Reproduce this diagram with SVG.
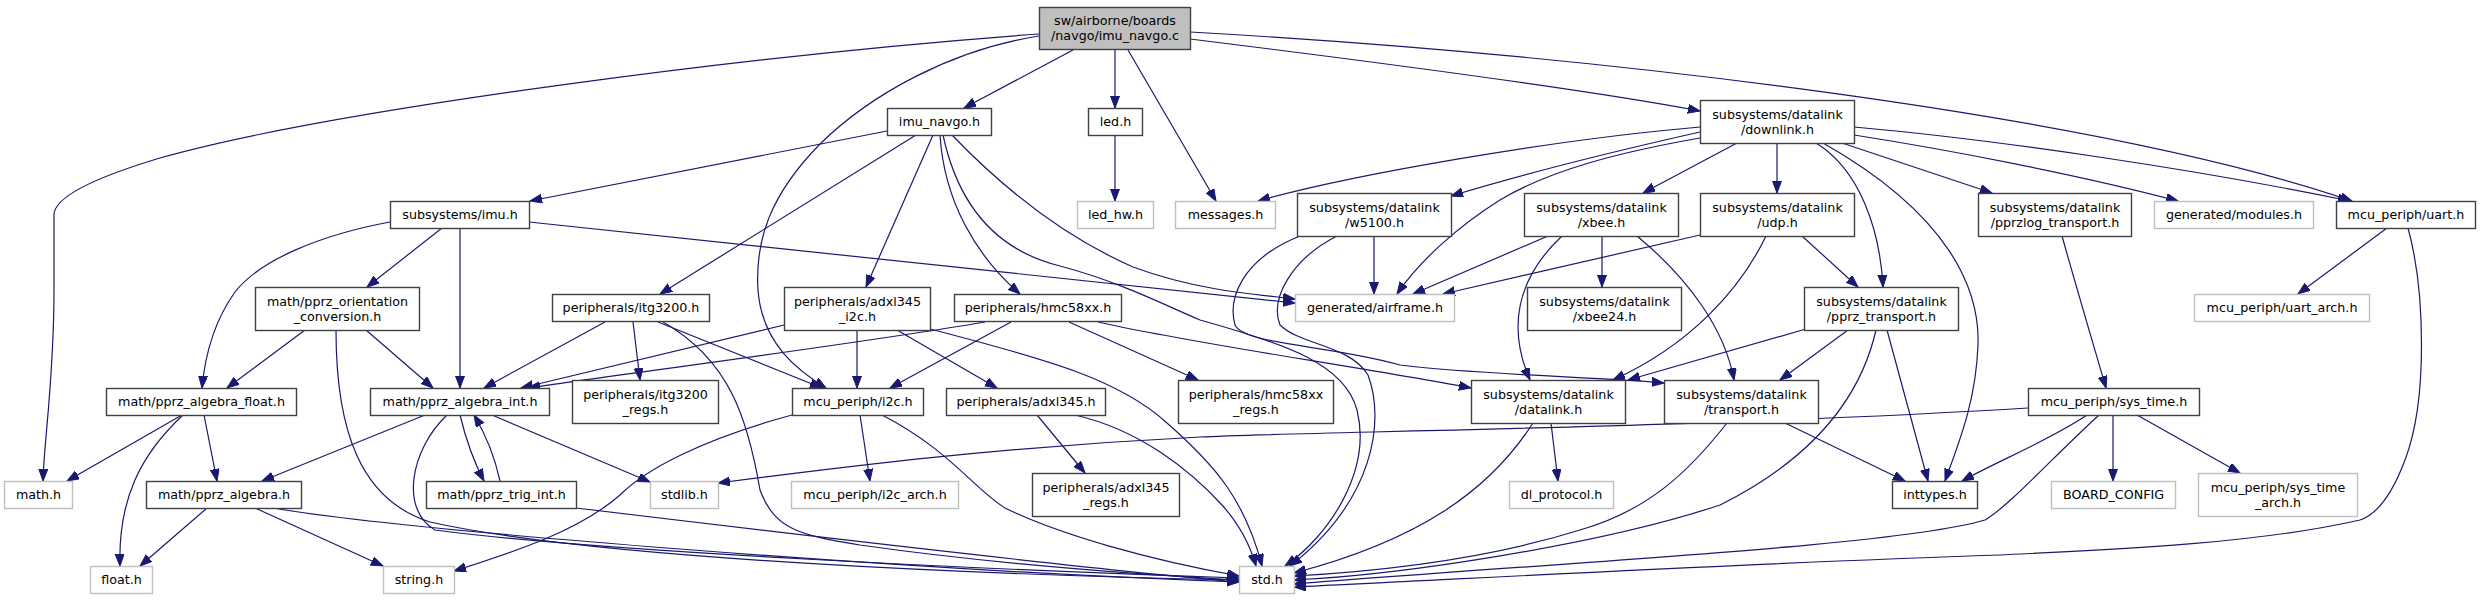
<svg xmlns="http://www.w3.org/2000/svg" width="2480" height="600" viewBox="0 0 2480 600">
<style>
.e path{fill:none;stroke:#191970;stroke-width:1.2;marker-end:url(#a)}
.n rect{fill:#fff;stroke:#404040;stroke-width:1.4}
.g rect{fill:#fff;stroke:#bfbfbf;stroke-width:1.4}
.r rect{fill:#bfbfbf;stroke:#404040;stroke-width:1.4}
text{font-family:"DejaVu Sans",sans-serif;font-size:12.7px;text-anchor:middle;fill:#000}
</style>
<defs>
<marker id="a" markerUnits="userSpaceOnUse" markerWidth="14" markerHeight="12" refX="12" refY="4.5" orient="auto">
<path d="M0,0 L12,4.5 L0,9 z" fill="#191970" stroke="#191970" stroke-width="1"/>
</marker>
</defs>
<rect width="2480" height="600" fill="#fff"/>
<g id="edges" class="e">
<path d="M1039,34 C750,55 330,110 160,158 C80,182 54,200 54,215 L54,290 C54,380 44,440 43,481"/>
<path d="M1073,50 L964,108"/>
<path d="M1115,50 L1115,108"/>
<path d="M1128,50 L1216,201"/>
<path d="M1039,36 C950,50 870,95 820,144 C770,195 755,240 758,290 C762,345 800,372 826,388"/>
<path d="M1190,39 C1400,65 1600,92 1700,111"/>
<path d="M1190,32 C1600,55 2100,115 2352,201"/>
<path d="M887,131 L530,201"/>
<path d="M916,135 L660,294"/>
<path d="M933,135 L866,287"/>
<path d="M940,135 C944,200 975,255 1020,294"/>
<path d="M943,135 C958,205 995,250 1060,266 C1120,282 1160,303 1200,320 C1290,345 1345,365 1357,410 C1372,470 1330,535 1285,566"/>
<path d="M952,135 C1000,185 1060,235 1133,267 C1190,288 1240,293 1295,299"/>
<path d="M442,228 L367,287"/>
<path d="M460,228 L460,388"/>
<path d="M390,222 C320,235 260,260 235,292 C215,320 205,355 202,388"/>
<path d="M529,222 L1295,303"/>
<path d="M305,330 L227,388"/>
<path d="M366,330 L433,388"/>
<path d="M336,330 C336,430 360,500 430,522 C600,560 1000,575 1239,580"/>
<path d="M182,415 L67,481"/>
<path d="M183,415 C140,455 118,500 120,566"/>
<path d="M204,415 L217,481"/>
<path d="M207,508 L140,566"/>
<path d="M255,508 L383,566"/>
<path d="M273,508 C400,530 900,570 1239,582"/>
<path d="M425,415 L262,481"/>
<path d="M447,415 C410,450 400,510 435,530 C600,552 1000,570 1239,578"/>
<path d="M460,415 C466,440 474,462 484,481"/>
<path d="M500,481 C495,458 486,435 474,415"/>
<path d="M492,415 L650,482"/>
<path d="M576,508 C800,535 1100,570 1239,582"/>
<path d="M605,322 L484,388"/>
<path d="M633,322 L640,380"/>
<path d="M658,322 L822,388"/>
<path d="M663,322 C730,360 748,420 760,490 C775,530 800,535 860,545 C1000,565 1150,575 1239,580"/>
<path d="M784,325 L521,388"/>
<path d="M857,330 L857,388"/>
<path d="M897,330 L997,388"/>
<path d="M930,329 C1050,360 1120,380 1167,423 C1215,465 1245,500 1262,566"/>
<path d="M985,322 C850,345 650,370 528,388"/>
<path d="M1011,322 L890,388"/>
<path d="M1069,322 L1198,380"/>
<path d="M1098,322 C1200,345 1350,365 1471,388"/>
<path d="M860,415 L870,481"/>
<path d="M882,415 C950,450 975,490 1005,508 C1060,535 1150,560 1239,576"/>
<path d="M792,415 C700,440 645,470 620,495 C580,530 520,550 454,571"/>
<path d="M1037,415 L1085,473"/>
<path d="M1075,415 C1140,430 1190,470 1222,505 C1240,525 1250,545 1256,566"/>
<path d="M1374,236 L1374,294"/>
<path d="M1300,236 C1240,260 1228,300 1235,325 C1245,345 1330,345 1400,365 C1480,375 1600,377 1664,383"/>
<path d="M1337,236 C1290,260 1270,300 1280,325 C1300,345 1350,345 1368,375 C1385,420 1375,500 1290,566"/>
<path d="M1700,127 C1550,140 1350,175 1258,201"/>
<path d="M1700,132 C1620,150 1520,175 1451,196"/>
<path d="M1700,138 C1620,152 1550,170 1500,200 C1460,225 1420,260 1397,294"/>
<path d="M1737,143 L1643,193"/>
<path d="M1777,143 L1777,193"/>
<path d="M1816,143 C1860,170 1880,230 1883,287"/>
<path d="M1823,143 C1950,215 1980,290 1978,345 C1976,400 1960,440 1945,481"/>
<path d="M1842,143 L1992,193"/>
<path d="M1854,135 C1950,150 2080,175 2178,201"/>
<path d="M1854,127 C2000,140 2200,170 2350,201"/>
<path d="M1548,236 L1413,294"/>
<path d="M1562,236 C1515,280 1508,330 1530,380"/>
<path d="M1602,236 L1602,287"/>
<path d="M1637,236 C1690,280 1725,330 1734,380"/>
<path d="M1700,235 L1443,294"/>
<path d="M1766,236 C1740,290 1690,345 1613,380"/>
<path d="M1802,236 L1858,287"/>
<path d="M1806,329 L1628,380"/>
<path d="M1848,330 L1780,380"/>
<path d="M1876,330 C1860,400 1810,460 1720,505 C1600,545 1400,575 1294,580"/>
<path d="M1887,330 L1928,481"/>
<path d="M1727,423 C1690,470 1650,510 1580,530 C1500,555 1400,570 1294,576"/>
<path d="M1785,423 L1905,481"/>
<path d="M1533,423 C1490,490 1420,540 1294,573"/>
<path d="M1551,423 L1558,481"/>
<path d="M2028,408 C1700,428 1300,432 1200,437 C1000,447 850,466 718,483"/>
<path d="M2087,415 C2050,440 2000,460 1962,481"/>
<path d="M2099,415 C2050,460 2010,505 1985,520 C1900,545 1600,560 1294,584"/>
<path d="M2113,415 L2113,481"/>
<path d="M2137,415 L2240,473"/>
<path d="M2387,228 L2298,294"/>
<path d="M2408,228 C2425,290 2428,400 2405,460 C2390,500 2375,515 2360,520 C2250,545 2100,550 2000,555 C1700,565 1450,580 1294,587"/>
<path d="M2062,236 C2080,300 2095,350 2106,388"/>
<path d="M1115,135 L1115,201"/>
</g>
<g id="root" class="r"><rect x="1039.5" y="7.5" width="151" height="42"/><text x="1115" y="25">sw/airborne/boards</text><text x="1115" y="40">/navgo/imu_navgo.c</text></g>
<g id="imu_navgo_h" class="n"><rect x="887.5" y="108.5" width="104" height="27"/><text x="939.5" y="126">imu_navgo.h</text></g>
<g id="led_h" class="n"><rect x="1088.5" y="108.5" width="54" height="27"/><text x="1115.5" y="126">led.h</text></g>
<g id="led_hw_h" class="g"><rect x="1077.5" y="201.5" width="76" height="27"/><text x="1115.5" y="219">led_hw.h</text></g>
<g id="messages_h" class="g"><rect x="1175.5" y="201.5" width="100" height="27"/><text x="1225.5" y="219">messages.h</text></g>
<g id="downlink_h" class="n"><rect x="1700.5" y="100.5" width="154" height="43"/><text x="1777.5" y="118.5">subsystems/datalink</text><text x="1777.5" y="133.5">/downlink.h</text></g>
<g id="uart_h" class="n"><rect x="2336.5" y="201.5" width="139" height="27"/><text x="2406" y="219">mcu_periph/uart.h</text></g>
<g id="imu_h" class="n"><rect x="390.5" y="201.5" width="139" height="27"/><text x="460" y="219">subsystems/imu.h</text></g>
<g id="itg3200_h" class="n"><rect x="552.5" y="294.5" width="157" height="27"/><text x="631" y="312">peripherals/itg3200.h</text></g>
<g id="adxl345_i2c_h" class="n"><rect x="784.5" y="287.5" width="146" height="43"/><text x="857.5" y="305.5">peripherals/adxl345</text><text x="857.5" y="320.5">_i2c.h</text></g>
<g id="hmc58xx_h" class="n"><rect x="954.5" y="294.5" width="167" height="27"/><text x="1038" y="312">peripherals/hmc58xx.h</text></g>
<g id="airframe_h" class="g"><rect x="1295.5" y="294.5" width="159" height="27"/><text x="1375" y="312">generated/airframe.h</text></g>
<g id="w5100_h" class="n"><rect x="1297.5" y="193.5" width="154" height="43"/><text x="1374.5" y="211.5">subsystems/datalink</text><text x="1374.5" y="226.5">/w5100.h</text></g>
<g id="xbee_h" class="n"><rect x="1524.5" y="193.5" width="154" height="43"/><text x="1601.5" y="211.5">subsystems/datalink</text><text x="1601.5" y="226.5">/xbee.h</text></g>
<g id="udp_h" class="n"><rect x="1700.5" y="193.5" width="154" height="43"/><text x="1777.5" y="211.5">subsystems/datalink</text><text x="1777.5" y="226.5">/udp.h</text></g>
<g id="pprzlog_transport_h" class="n"><rect x="1978.5" y="193.5" width="153" height="43"/><text x="2055" y="211.5">subsystems/datalink</text><text x="2055" y="226.5">/pprzlog_transport.h</text></g>
<g id="modules_h" class="g"><rect x="2154.5" y="201.5" width="159" height="27"/><text x="2234" y="219">generated/modules.h</text></g>
<g id="uart_arch_h" class="g"><rect x="2194.5" y="294.5" width="175" height="27"/><text x="2282" y="312">mcu_periph/uart_arch.h</text></g>
<g id="sys_time_h" class="n"><rect x="2028.5" y="388.5" width="171" height="27"/><text x="2114" y="406">mcu_periph/sys_time.h</text></g>
<g id="board_config" class="g"><rect x="2051.5" y="481.5" width="124" height="27"/><text x="2113.5" y="499">BOARD_CONFIG</text></g>
<g id="sys_time_arch_h" class="g"><rect x="2198.5" y="473.5" width="159" height="43"/><text x="2278" y="491.5">mcu_periph/sys_time</text><text x="2278" y="506.5">_arch.h</text></g>
<g id="inttypes_h" class="n"><rect x="1892.5" y="481.5" width="85" height="27"/><text x="1935" y="499">inttypes.h</text></g>
<g id="pprz_transport_h" class="n"><rect x="1804.5" y="287.5" width="154" height="43"/><text x="1881.5" y="305.5">subsystems/datalink</text><text x="1881.5" y="320.5">/pprz_transport.h</text></g>
<g id="transport_h" class="n"><rect x="1664.5" y="380.5" width="154" height="43"/><text x="1741.5" y="398.5">subsystems/datalink</text><text x="1741.5" y="413.5">/transport.h</text></g>
<g id="datalink_h" class="n"><rect x="1471.5" y="380.5" width="154" height="43"/><text x="1548.5" y="398.5">subsystems/datalink</text><text x="1548.5" y="413.5">/datalink.h</text></g>
<g id="xbee24_h" class="n"><rect x="1527.5" y="287.5" width="154" height="43"/><text x="1604.5" y="305.5">subsystems/datalink</text><text x="1604.5" y="320.5">/xbee24.h</text></g>
<g id="dl_protocol_h" class="g"><rect x="1509.5" y="481.5" width="104" height="27"/><text x="1561.5" y="499">dl_protocol.h</text></g>
<g id="std_h" class="g"><rect x="1239.5" y="566.5" width="55" height="27"/><text x="1267" y="584">std.h</text></g>
<g id="hmc58xx_regs_h" class="n"><rect x="1178.5" y="380.5" width="155" height="43"/><text x="1256" y="398.5">peripherals/hmc58xx</text><text x="1256" y="413.5">_regs.h</text></g>
<g id="i2c_h" class="n"><rect x="792.5" y="388.5" width="131" height="27"/><text x="858" y="406">mcu_periph/i2c.h</text></g>
<g id="adxl345_h" class="n"><rect x="946.5" y="388.5" width="159" height="27"/><text x="1026" y="406">peripherals/adxl345.h</text></g>
<g id="adxl345_regs_h" class="n"><rect x="1032.5" y="473.5" width="147" height="43"/><text x="1106" y="491.5">peripherals/adxl345</text><text x="1106" y="506.5">_regs.h</text></g>
<g id="i2c_arch_h" class="g"><rect x="791.5" y="481.5" width="167" height="27"/><text x="875" y="499">mcu_periph/i2c_arch.h</text></g>
<g id="itg3200_regs_h" class="n"><rect x="572.5" y="380.5" width="146" height="43"/><text x="645.5" y="398.5">peripherals/itg3200</text><text x="645.5" y="413.5">_regs.h</text></g>
<g id="pprz_algebra_int_h" class="n"><rect x="370.5" y="388.5" width="179" height="27"/><text x="460" y="406">math/pprz_algebra_int.h</text></g>
<g id="pprz_trig_int_h" class="n"><rect x="426.5" y="481.5" width="150" height="27"/><text x="501.5" y="499">math/pprz_trig_int.h</text></g>
<g id="stdlib_h" class="g"><rect x="650.5" y="481.5" width="68" height="27"/><text x="684.5" y="499">stdlib.h</text></g>
<g id="string_h" class="g"><rect x="383.5" y="566.5" width="71" height="27"/><text x="419" y="584">string.h</text></g>
<g id="float_h" class="g"><rect x="90.5" y="566.5" width="62" height="27"/><text x="121.5" y="584">float.h</text></g>
<g id="math_h" class="g"><rect x="4.5" y="481.5" width="68" height="27"/><text x="38.5" y="499">math.h</text></g>
<g id="pprz_algebra_h" class="n"><rect x="146.5" y="481.5" width="155" height="27"/><text x="224" y="499">math/pprz_algebra.h</text></g>
<g id="pprz_algebra_float_h" class="n"><rect x="106.5" y="388.5" width="190" height="27"/><text x="201.5" y="406">math/pprz_algebra_float.h</text></g>
<g id="pprz_orientation_conversion_h" class="n"><rect x="255.5" y="287.5" width="164" height="43"/><text x="337.5" y="305.5">math/pprz_orientation</text><text x="337.5" y="320.5">_conversion.h</text></g>
</svg>
